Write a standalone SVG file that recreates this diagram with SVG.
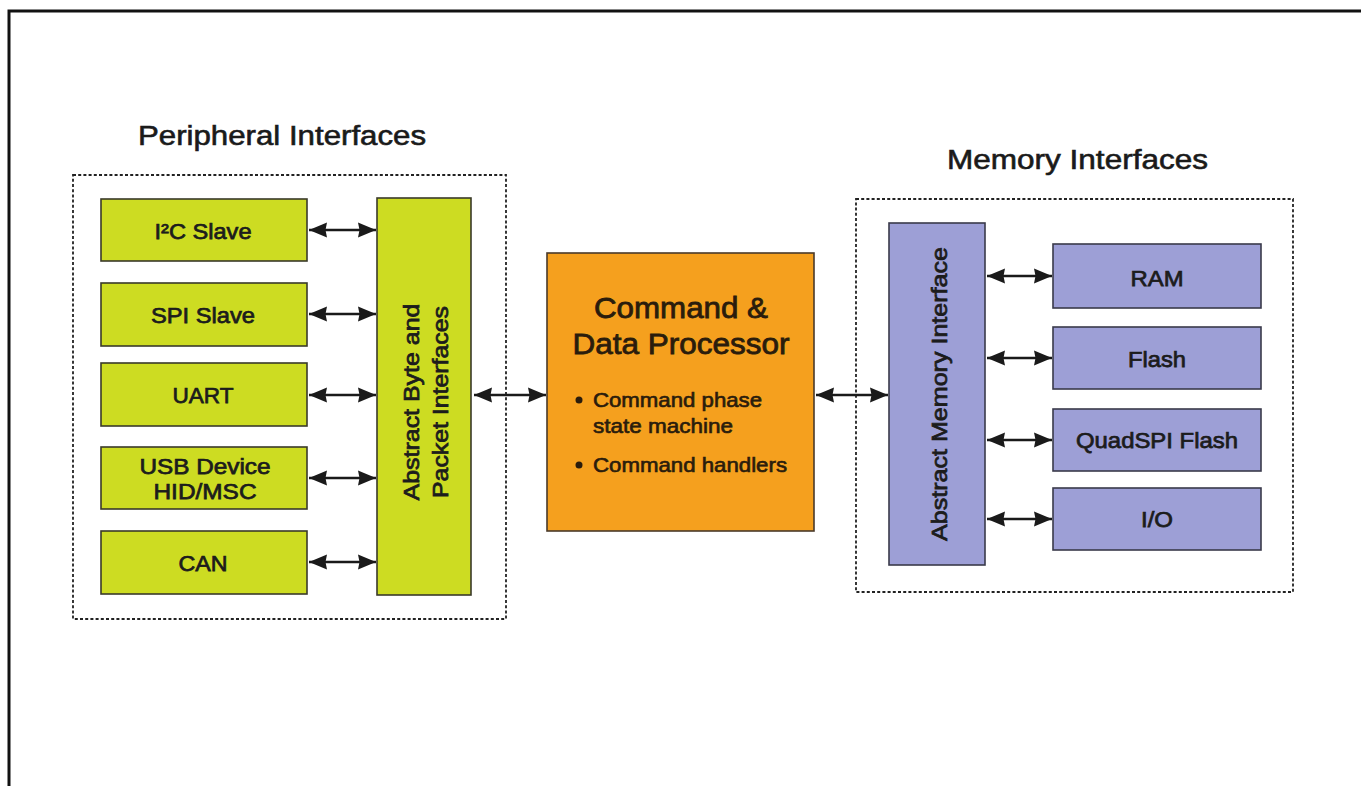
<svg xmlns="http://www.w3.org/2000/svg" width="1361" height="786" viewBox="0 0 1361 786">
  <defs>
    <style>
      .frame { stroke: #111; stroke-width: 3; fill: none; }
      .group { fill: none; stroke: #222; stroke-width: 1.8; stroke-dasharray: 3 2.2; }
      .green { fill: #cddc22; stroke: #3a3a2a; stroke-width: 1.6; }
      .purple { fill: #9d9fd6; stroke: #3a3a4a; stroke-width: 1.6; }
      .orange { fill: #f5a01e; stroke: #4a3a2a; stroke-width: 1.6; }
      .lbl { font-family: "Liberation Sans", Arial, Helvetica, sans-serif; font-size: 22.5px; fill: #1c1c1c; stroke: #1c1c1c; stroke-width: 0.75; }
      .title { font-family: "Liberation Sans", Arial, Helvetica, sans-serif; font-size: 27px; fill: #1a1a1a; stroke: #1a1a1a; stroke-width: 0.6; }
      .ptitle { font-family: "Liberation Sans", Arial, Helvetica, sans-serif; font-size: 29.5px; fill: #2a1c0c; stroke: #2a1c0c; stroke-width: 0.8; }
      .bul { font-family: "Liberation Sans", Arial, Helvetica, sans-serif; font-size: 21px; fill: #2a1c0c; stroke: #2a1c0c; stroke-width: 0.65; }
      .conn { stroke: #1a1a1a; stroke-width: 2.4; fill: none; marker-start: url(#ah); marker-end: url(#ah); }
    </style>
    <marker id="ah" viewBox="0 0 18 16" refX="18" refY="8" markerWidth="18" markerHeight="16" markerUnits="userSpaceOnUse" orient="auto-start-reverse">
      <path d="M0,0.5 L18,8 L0,15.5 L1.5,8 Z" fill="#1a1a1a"/>
    </marker>
  </defs>
  <rect width="1361" height="786" fill="#ffffff"/>
  <path class="frame" d="M9,786 L9,11 L1361,11"/>

  <g id="peripheral-interfaces">
    <rect class="group" x="73" y="175" width="433" height="444"/>
    <text class="title" x="138" y="145" textLength="288" lengthAdjust="spacingAndGlyphs">Peripheral Interfaces</text>
  </g>
  <g id="memory-interfaces">
    <rect class="group" x="856" y="199" width="437" height="393"/>
    <text class="title" x="947" y="169" textLength="261" lengthAdjust="spacingAndGlyphs">Memory Interfaces</text>
  </g>

  <g id="i2c-slave">
    <rect class="green" x="101" y="199" width="206" height="62"/>
    <text class="lbl" x="203" y="239" text-anchor="middle" textLength="97" lengthAdjust="spacingAndGlyphs">I²C Slave</text>
  </g>
  <g id="spi-slave">
    <rect class="green" x="101" y="283" width="206" height="63"/>
    <text class="lbl" x="203" y="323" text-anchor="middle" textLength="104" lengthAdjust="spacingAndGlyphs">SPI Slave</text>
  </g>
  <g id="uart">
    <rect class="green" x="101" y="363" width="206" height="63"/>
    <text class="lbl" x="203" y="403" text-anchor="middle" textLength="61" lengthAdjust="spacingAndGlyphs">UART</text>
  </g>
  <g id="usb-device">
    <rect class="green" x="101" y="447" width="206" height="62"/>
    <text class="lbl" x="205" y="474" text-anchor="middle" textLength="131" lengthAdjust="spacingAndGlyphs">USB Device</text>
    <text class="lbl" x="205" y="499" text-anchor="middle" textLength="103" lengthAdjust="spacingAndGlyphs">HID/MSC</text>
  </g>
  <g id="can">
    <rect class="green" x="101" y="531" width="206" height="63"/>
    <text class="lbl" x="203" y="571" text-anchor="middle" textLength="49" lengthAdjust="spacingAndGlyphs">CAN</text>
  </g>
  <g id="abstract-byte-packet">
    <rect class="green" x="377" y="198" width="94" height="397"/>
    <text class="lbl" transform="translate(419,402) rotate(-90)" x="0" y="0" text-anchor="middle" textLength="197" lengthAdjust="spacingAndGlyphs">Abstract Byte and</text>
    <text class="lbl" transform="translate(448,402) rotate(-90)" x="0" y="0" text-anchor="middle" textLength="192" lengthAdjust="spacingAndGlyphs">Packet Interfaces</text>
  </g>

  <g id="command-data-processor">
    <rect class="orange" x="547" y="253" width="267" height="278"/>
    <text class="ptitle" x="681" y="318" text-anchor="middle" textLength="174" lengthAdjust="spacingAndGlyphs">Command &amp;</text>
    <text class="ptitle" x="681" y="354" text-anchor="middle" textLength="217" lengthAdjust="spacingAndGlyphs">Data Processor</text>
    <circle cx="579" cy="400" r="3.5" fill="#2a1c0c"/>
    <text class="bul" x="593" y="407" textLength="169" lengthAdjust="spacingAndGlyphs">Command phase</text>
    <text class="bul" x="593" y="433" textLength="140" lengthAdjust="spacingAndGlyphs">state machine</text>
    <circle cx="579" cy="465" r="3.5" fill="#2a1c0c"/>
    <text class="bul" x="593" y="472" textLength="194" lengthAdjust="spacingAndGlyphs">Command handlers</text>
  </g>

  <g id="abstract-memory-interface">
    <rect class="purple" x="889" y="223" width="96" height="342"/>
    <text class="lbl" transform="translate(947,394) rotate(-90)" x="0" y="0" text-anchor="middle" font-size="24" textLength="294" lengthAdjust="spacingAndGlyphs">Abstract Memory Interface</text>
  </g>
  <g id="ram">
    <rect class="purple" x="1053" y="244" width="208" height="64"/>
    <text class="lbl" x="1157" y="286" text-anchor="middle" textLength="53" lengthAdjust="spacingAndGlyphs">RAM</text>
  </g>
  <g id="flash">
    <rect class="purple" x="1053" y="327" width="208" height="62"/>
    <text class="lbl" x="1157" y="367" text-anchor="middle" textLength="58" lengthAdjust="spacingAndGlyphs">Flash</text>
  </g>
  <g id="quadspi-flash">
    <rect class="purple" x="1053" y="409" width="208" height="62"/>
    <text class="lbl" x="1157" y="448" text-anchor="middle" textLength="162" lengthAdjust="spacingAndGlyphs">QuadSPI Flash</text>
  </g>
  <g id="io">
    <rect class="purple" x="1053" y="488" width="208" height="62"/>
    <text class="lbl" x="1157" y="527" text-anchor="middle" textLength="32" lengthAdjust="spacingAndGlyphs">I/O</text>
  </g>

  <g id="connectors">
    <line class="conn" x1="309" y1="230" x2="376" y2="230"/>
    <line class="conn" x1="309" y1="314" x2="376" y2="314"/>
    <line class="conn" x1="309" y1="395" x2="376" y2="395"/>
    <line class="conn" x1="309" y1="478" x2="376" y2="478"/>
    <line class="conn" x1="309" y1="562" x2="376" y2="562"/>
    <line class="conn" x1="474" y1="395" x2="546" y2="395"/>
    <line class="conn" x1="816" y1="395" x2="888" y2="395"/>
    <line class="conn" x1="987" y1="276" x2="1052" y2="276"/>
    <line class="conn" x1="987" y1="358" x2="1052" y2="358"/>
    <line class="conn" x1="987" y1="440" x2="1052" y2="440"/>
    <line class="conn" x1="987" y1="519" x2="1052" y2="519"/>
  </g>
</svg>
